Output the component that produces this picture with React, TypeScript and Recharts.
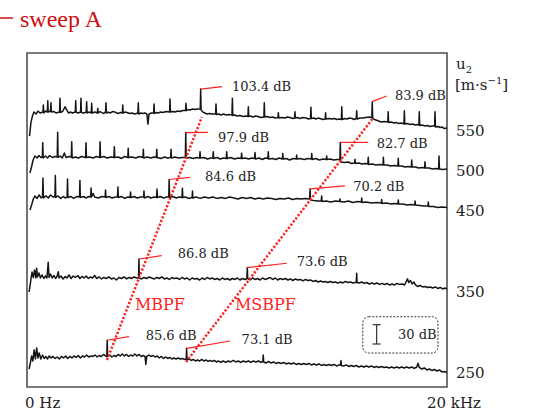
import React from 'react';
import {
  ComposedChart,
  Line,
  Scatter,
  XAxis,
  YAxis,
  ReferenceArea,
  ReferenceLine,
} from 'recharts';

type Pt = [number, number];

// u2 [m/s] of each spectrum and the level (dB) that sits on its tick
const speeds = [550, 500, 450, 350, 250];
const floorDb = [39.3, 38.7, 35.6, 36.0, 35.7];

// spectra as [frequency kHz, level dB]
const spec550: Pt[] = [
  [0.12, 30.6], [0.19, 52.3], [0.26, 61.6], [0.33, 67.8], [0.43, 64.7], [0.52, 69.4], [0.62, 66.3],
  [0.76, 67.8], [0.78, 78.7], [0.8, 66.3], [0.88, 69.4],
  [0.97, 67.8], [0.99, 85.3], [1.01, 67.8],
  [1.12, 69.4], [1.14, 82.2], [1.16, 67.8], [1.29, 68.6], [1.38, 66.3],
  [1.55, 67.8], [1.57, 89.0], [1.59, 67.0], [1.71, 69.4], [1.81, 76.0], [1.9, 70.9], [1.98, 66.3], [2.05, 67.8], [2.18, 66.3],
  [2.3, 67.8], [2.32, 85.3], [2.34, 67.8], [2.43, 66.3],
  [2.55, 67.8], [2.57, 89.0], [2.59, 67.0], [2.71, 66.3],
  [2.82, 67.8], [2.84, 83.8], [2.86, 66.3], [2.95, 67.8],
  [3.06, 66.3], [3.08, 81.3], [3.1, 66.3], [3.24, 67.8],
  [3.35, 66.3], [3.37, 73.5], [3.39, 66.3], [3.48, 68.6], [3.57, 67.0], [3.66, 65.5],
  [3.74, 67.8], [3.76, 82.2], [3.78, 66.3], [3.87, 67.8], [3.95, 66.3], [4.07, 68.6], [4.19, 67.8], [4.33, 65.5], [4.44, 67.0],
  [4.54, 66.3], [4.56, 78.7], [4.58, 66.3], [4.67, 67.8], [4.76, 67.0], [4.88, 65.5], [5.0, 66.3], [5.14, 64.7],
  [5.28, 66.3], [5.3, 82.2], [5.32, 64.7], [5.42, 66.3], [5.52, 65.5], [5.62, 66.3], [5.71, 64.7], [5.76, 49.2], [5.81, 64.7], [5.92, 66.3],
  [6.03, 66.3], [6.05, 80.2], [6.07, 65.5], [6.15, 67.0], [6.24, 66.3], [6.36, 67.8], [6.48, 67.0], [6.62, 68.6],
  [6.79, 67.8], [6.81, 88.1], [6.83, 67.8], [6.94, 68.6], [7.05, 67.8], [7.17, 69.4], [7.29, 68.6], [7.42, 70.1],
  [7.55, 70.1], [7.57, 81.3], [7.59, 70.1], [7.68, 71.7], [7.76, 70.9], [7.88, 72.5], [8.0, 71.7], [8.1, 72.5], [8.19, 72.5],
  [8.25, 72.5], [8.27, 103.4], [8.29, 70.9], [8.38, 67.8], [8.47, 66.3], [8.57, 64.7], [8.69, 65.5], [8.81, 64.7],
  [8.98, 64.7], [9.0, 80.2], [9.02, 63.9], [9.12, 64.7], [9.24, 63.2], [9.36, 64.7], [9.48, 63.2], [9.62, 64.0],
  [9.76, 63.2], [9.78, 89.0], [9.8, 62.4], [9.9, 63.2], [10.0, 61.6], [10.15, 62.4], [10.29, 60.9], [10.4, 61.6],
  [10.52, 60.9], [10.54, 76.0], [10.56, 60.9], [10.66, 61.6], [10.76, 60.1], [10.88, 61.6], [11.0, 60.9], [11.14, 59.3],
  [11.28, 60.1], [11.3, 82.2], [11.32, 60.1], [11.44, 60.9], [11.57, 59.3], [11.7, 60.1], [11.82, 58.5],
  [11.95, 59.3], [11.97, 66.7], [11.99, 58.5], [12.14, 59.3], [12.29, 58.5], [12.4, 60.1], [12.52, 59.3], [12.64, 57.8],
  [12.74, 58.5], [12.76, 68.3], [12.78, 58.5], [12.88, 59.3], [13.0, 57.8], [13.14, 59.3], [13.29, 58.5], [13.4, 57.0],
  [13.5, 57.8], [13.52, 75.1], [13.54, 57.8], [13.65, 58.5], [13.76, 57.0], [13.86, 58.5], [13.95, 57.8], [14.08, 56.2],
  [14.2, 57.0], [14.22, 66.7], [14.24, 57.0], [14.38, 57.8], [14.52, 57.0], [14.64, 57.8], [14.76, 56.2], [14.87, 57.0],
  [14.97, 56.2], [14.99, 76.0], [15.01, 56.2], [15.12, 57.8], [15.24, 57.0], [15.36, 58.5], [15.48, 57.8], [15.58, 56.2],
  [15.68, 57.8], [15.7, 69.8], [15.72, 57.0], [15.86, 58.5], [16.0, 58.5], [16.14, 59.3], [16.29, 60.1], [16.36, 59.3],
  [16.42, 60.1], [16.44, 83.9], [16.46, 58.5], [16.54, 56.2], [16.62, 55.4], [16.74, 53.9], [16.86, 52.3], [17.02, 53.1],
  [17.18, 52.3], [17.2, 68.3], [17.22, 51.5], [17.34, 52.3], [17.48, 50.8], [17.6, 51.5], [17.71, 50.0], [17.83, 50.8],
  [17.95, 49.2], [17.97, 69.8], [17.99, 49.2], [18.1, 50.0], [18.24, 48.5], [18.36, 49.2], [18.48, 47.7], [18.57, 48.5],
  [18.66, 47.7], [18.68, 68.3], [18.7, 46.9], [18.82, 47.7], [18.95, 46.1], [19.07, 46.9], [19.19, 45.4], [19.3, 46.1],
  [19.41, 46.1], [19.43, 68.3], [19.45, 44.6], [19.56, 45.4], [19.67, 43.8], [19.78, 44.6], [19.86, 42.2], [20.0, 43.0],
];

const spec500: Pt[] = [
  [0.14, 35.3], [0.22, 45.4], [0.29, 55.4], [0.38, 61.6], [0.48, 58.5], [0.57, 62.4], [0.66, 59.3],
  [0.73, 60.1], [0.75, 82.3], [0.77, 58.5], [0.88, 61.6], [0.98, 58.5], [1.08, 62.4], [1.2, 59.3], [1.33, 60.9],
  [1.44, 60.1], [1.46, 98.5], [1.48, 59.3], [1.58, 61.6], [1.68, 58.5], [1.78, 66.3], [1.86, 59.3], [2.0, 60.9],
  [2.11, 60.1], [2.13, 83.8], [2.15, 58.5], [2.3, 60.1], [2.45, 58.5], [2.6, 60.9],
  [2.79, 59.3], [2.81, 82.3], [2.83, 59.3], [2.98, 60.1], [3.15, 58.5], [3.3, 60.9],
  [3.46, 59.3], [3.48, 83.8], [3.5, 59.3], [3.65, 60.9], [3.82, 58.5], [4.0, 60.1],
  [4.14, 59.3], [4.16, 76.1], [4.18, 59.3], [4.35, 60.1], [4.5, 57.8], [4.65, 60.9],
  [4.8, 59.3], [4.82, 73.6], [4.84, 59.3], [5.0, 60.1], [5.18, 58.5], [5.35, 60.9],
  [5.52, 59.3], [5.54, 72.0], [5.56, 58.5], [5.72, 60.1], [5.9, 58.5], [6.05, 60.1],
  [6.16, 59.3], [6.18, 72.0], [6.2, 59.3], [6.38, 57.8], [6.55, 60.1], [6.7, 58.5],
  [6.84, 59.3], [6.86, 72.0], [6.88, 58.5], [7.05, 60.1], [7.22, 58.5], [7.4, 59.3],
  [7.54, 59.3], [7.56, 97.9], [7.58, 58.5], [7.75, 59.3], [7.92, 57.8], [8.08, 59.3],
  [8.22, 58.5], [8.24, 68.3], [8.26, 58.5], [8.42, 59.3], [8.6, 57.0], [8.75, 58.5],
  [8.85, 58.5], [8.87, 68.3], [8.89, 57.8], [9.05, 59.3], [9.2, 57.0], [9.35, 58.5],
  [9.49, 57.8], [9.51, 68.3], [9.53, 57.8], [9.7, 59.3], [9.88, 57.0], [10.05, 58.5],
  [10.2, 57.8], [10.22, 66.0], [10.24, 57.8], [10.4, 58.5], [10.55, 57.0], [10.7, 58.5],
  [10.84, 57.8], [10.86, 67.0], [10.88, 57.0], [11.05, 58.5], [11.2, 56.2], [11.35, 58.5],
  [11.47, 57.8], [11.49, 68.3], [11.51, 57.0], [11.7, 57.8], [11.85, 56.2], [12.0, 58.5],
  [12.16, 57.0], [12.18, 65.6], [12.2, 57.0], [12.35, 57.8], [12.5, 55.4], [12.68, 57.8],
  [12.82, 57.0], [12.84, 63.2], [12.86, 57.0], [13.0, 57.8], [13.2, 56.2], [13.38, 57.8],
  [13.54, 57.0], [13.56, 65.6], [13.58, 56.2], [13.75, 57.8], [13.92, 55.4], [14.1, 57.0],
  [14.25, 56.2], [14.27, 61.6], [14.29, 56.2], [14.45, 57.0], [14.6, 55.4], [14.78, 56.2],
  [14.9, 56.2], [14.92, 82.7], [14.94, 52.3], [15.1, 51.5], [15.3, 52.3], [15.45, 50.0],
  [15.6, 50.8], [15.62, 56.5], [15.64, 50.0], [15.8, 50.8], [15.95, 49.2], [16.1, 50.0],
  [16.23, 49.2], [16.25, 59.6], [16.27, 48.5], [16.45, 49.2], [16.62, 47.7], [16.8, 48.5],
  [16.95, 47.7], [16.97, 59.6], [16.99, 47.7], [17.15, 47.7], [17.32, 46.1], [17.5, 46.9],
  [17.66, 46.1], [17.68, 58.1], [17.7, 46.1], [17.85, 46.1], [18.0, 44.6], [18.15, 45.4],
  [18.3, 44.6], [18.32, 55.4], [18.34, 44.6], [18.5, 44.6], [18.65, 43.0], [18.8, 43.8],
  [18.93, 43.0], [18.95, 52.8], [18.97, 43.0], [19.15, 43.0], [19.3, 41.5], [19.45, 42.2],
  [19.6, 41.5], [19.62, 61.6], [19.64, 41.5], [19.8, 40.7], [20.0, 41.5],
];

const spec450: Pt[] = [
  [0.14, 37.4], [0.22, 45.1], [0.3, 54.4], [0.38, 59.1], [0.48, 55.3], [0.58, 60.6], [0.67, 56.0],
  [0.74, 57.5], [0.76, 87.0], [0.78, 56.0], [0.9, 59.1], [1.02, 56.0], [1.12, 60.6], [1.24, 57.5],
  [1.33, 58.3], [1.35, 90.8], [1.37, 56.8], [1.48, 59.1], [1.6, 55.3], [1.72, 58.3], [1.82, 56.0],
  [1.91, 57.5], [1.93, 85.4], [1.95, 56.8], [2.08, 58.3], [2.22, 55.3], [2.38, 58.3],
  [2.5, 57.5], [2.52, 83.1], [2.54, 56.8], [2.68, 58.3], [2.82, 56.0], [2.95, 58.3],
  [3.03, 57.5], [3.05, 71.5], [3.07, 57.5], [3.15, 63.0], [3.22, 57.5], [3.4, 56.0], [3.56, 58.3],
  [3.72, 57.5], [3.74, 68.4], [3.76, 56.8], [3.9, 58.3], [4.05, 56.0], [4.2, 57.5],
  [4.31, 57.5], [4.33, 73.0], [4.35, 56.8], [4.5, 58.3], [4.65, 55.3], [4.8, 57.5],
  [4.91, 56.8], [4.93, 65.3], [4.95, 56.8], [5.1, 58.3], [5.25, 56.0], [5.4, 57.5],
  [5.55, 57.5], [5.57, 66.8], [5.59, 56.0], [5.75, 58.3], [5.9, 56.0], [6.05, 57.5],
  [6.17, 56.8], [6.19, 69.9], [6.21, 56.8], [6.35, 58.3], [6.5, 56.0], [6.65, 57.5],
  [6.75, 57.5], [6.77, 84.6], [6.79, 56.8], [6.95, 58.3], [7.1, 56.0], [7.25, 57.5],
  [7.38, 56.8], [7.4, 71.0], [7.42, 56.8], [7.55, 57.5], [7.7, 55.3],
  [7.86, 56.8], [7.88, 66.8], [7.9, 56.0], [8.05, 57.5], [8.25, 55.3], [8.45, 57.5], [8.65, 56.0],
  [8.85, 57.5], [9.05, 55.3], [9.25, 56.8], [9.45, 55.3], [9.65, 57.5], [9.85, 56.0], [10.05, 54.4],
  [10.25, 56.8], [10.45, 55.3], [10.65, 56.8], [10.85, 54.4], [11.05, 56.0], [11.25, 54.4],
  [11.45, 56.0], [11.65, 55.3], [11.85, 53.6], [12.05, 55.3], [12.25, 54.4], [12.45, 56.0],
  [12.65, 53.6], [12.85, 55.3], [13.05, 54.4], [13.25, 55.3],
  [13.46, 54.4], [13.48, 70.2], [13.5, 52.9], [13.65, 52.1], [13.85, 51.3],
  [14.01, 51.3], [14.03, 59.1], [14.05, 50.6], [14.25, 51.3], [14.45, 49.8], [14.7, 51.3],
  [14.88, 50.6], [14.9, 54.4], [14.92, 50.6], [15.1, 49.8], [15.3, 51.3], [15.5, 49.0], [15.75, 50.6],
  [15.92, 49.8], [15.94, 56.0], [15.96, 49.0], [16.15, 49.8], [16.4, 48.2], [16.65, 49.0],
  [16.87, 48.2], [16.89, 53.6], [16.91, 47.5], [17.1, 48.2], [17.35, 46.7], [17.5, 47.5],
  [17.66, 46.7], [17.68, 52.9], [17.7, 46.7], [17.9, 46.7], [18.1, 45.1], [18.3, 46.0],
  [18.46, 45.1], [18.48, 51.3], [18.5, 45.1], [18.7, 44.4], [18.9, 43.6],
  [19.09, 43.6], [19.11, 49.8], [19.13, 42.8], [19.35, 42.8], [19.55, 41.2], [19.75, 42.0], [20.0, 41.2],
];

const spec350: Pt[] = [
  [0.1, 35.7], [0.17, 51.2], [0.24, 66.7], [0.3, 58.0], [0.36, 69.8], [0.42, 57.4], [0.46, 72.4], [0.5, 59.0],
  [0.57, 65.2], [0.64, 57.4], [0.72, 62.1], [0.8, 56.6], [0.88, 60.5], [0.95, 57.4], [1.01, 81.7], [1.05, 58.2],
  [1.12, 63.6], [1.2, 57.4], [1.28, 61.3], [1.36, 56.6], [1.44, 60.5], [1.49, 67.2], [1.53, 57.4], [1.62, 60.5],
  [1.72, 55.9], [1.82, 59.8], [1.9, 57.4], [2.0, 62.1], [2.1, 56.6], [2.2, 60.5], [2.3, 58.2], [2.42, 61.3],
  [2.52, 56.6], [2.62, 59.8], [2.72, 57.4], [2.82, 60.5], [2.92, 56.6], [3.02, 59.0], [3.12, 57.4], [3.22, 61.3],
  [3.32, 56.6], [3.44, 59.0], [3.55, 55.9], [3.66, 58.2], [3.78, 56.6], [3.9, 59.0], [4.02, 55.9], [4.14, 57.4],
  [4.26, 54.3], [4.38, 58.2], [4.5, 56.6], [4.62, 59.0], [4.74, 55.9], [4.86, 58.2], [4.98, 56.6], [5.1, 59.0],
  [5.22, 57.4], [5.31, 57.4], [5.33, 86.8], [5.35, 57.4], [5.45, 55.9], [5.58, 58.2], [5.7, 56.6], [5.82, 59.0],
  [5.94, 57.4], [6.06, 55.9], [6.18, 58.2], [6.3, 56.6], [6.42, 59.0], [6.54, 55.9], [6.66, 57.4], [6.78, 55.1],
  [6.9, 58.2], [7.02, 56.6], [7.14, 57.4], [7.26, 55.1], [7.38, 58.2], [7.5, 55.9], [7.62, 57.4], [7.74, 54.3],
  [7.86, 57.4], [7.98, 55.9], [8.1, 56.6], [8.22, 54.3], [8.34, 57.4], [8.46, 55.1], [8.58, 58.2], [8.7, 55.9],
  [8.82, 57.4], [8.94, 55.1], [9.06, 56.6], [9.18, 54.3], [9.3, 57.4], [9.42, 55.1], [9.54, 56.6], [9.66, 54.3],
  [9.78, 56.6], [9.9, 55.1], [10.02, 57.4], [10.14, 54.3], [10.26, 56.6], [10.38, 55.1], [10.47, 56.6],
  [10.49, 73.6], [10.51, 56.6], [10.62, 54.3], [10.74, 57.4], [10.86, 55.1], [10.98, 56.6], [11.1, 54.3],
  [11.22, 57.4], [11.34, 55.1], [11.46, 56.6], [11.58, 58.2], [11.7, 55.1], [11.82, 57.4], [11.94, 54.3],
  [12.06, 56.6], [12.18, 55.1], [12.3, 56.6], [12.42, 54.3], [12.54, 55.9], [12.66, 53.5], [12.78, 55.9],
  [12.9, 54.3], [13.02, 55.1], [13.14, 52.8], [13.26, 55.1], [13.38, 53.5], [13.5, 54.3], [13.62, 52.0],
  [13.74, 53.5], [13.86, 51.2], [13.98, 52.8], [14.1, 51.2], [14.2, 52.0], [14.32, 50.4], [14.44, 52.0],
  [14.56, 50.4], [14.68, 51.2], [14.8, 49.7], [14.92, 51.2], [15.04, 49.7], [15.16, 52.0], [15.28, 50.4],
  [15.4, 51.2], [15.52, 49.7], [15.62, 50.4], [15.68, 50.4], [15.7, 64.7], [15.72, 50.4], [15.82, 49.7],
  [15.94, 51.2], [16.06, 49.0], [16.18, 50.4], [16.3, 48.1], [16.42, 49.7], [16.54, 48.1], [16.66, 49.7],
  [16.78, 47.4], [16.9, 49.0], [17.02, 47.4], [17.14, 48.9], [17.26, 46.6], [17.38, 48.1], [17.5, 46.6],
  [17.62, 49.0], [17.74, 47.4], [17.86, 48.1], [17.98, 46.6], [18.06, 52.0], [18.12, 56.0], [18.18, 50.4],
  [18.26, 53.5], [18.34, 48.1], [18.42, 51.2], [18.5, 46.6], [18.6, 44.3], [18.72, 45.8], [18.84, 43.5],
  [18.96, 44.3], [19.08, 42.7], [19.2, 43.5], [19.32, 41.9], [19.44, 43.5], [19.56, 41.2], [19.68, 42.7],
  [19.8, 40.4], [19.9, 41.9], [20.0, 40.4],
];

const spec250: Pt[] = [
  [0.1, 41.1], [0.16, 50.4], [0.22, 61.3], [0.28, 53.5], [0.34, 70.6], [0.4, 56.6], [0.46, 73.7], [0.52, 58.2],
  [0.58, 66.0], [0.66, 56.6], [0.74, 62.8], [0.82, 57.4], [0.9, 60.5], [0.98, 56.6], [1.06, 61.3], [1.14, 58.2],
  [1.24, 60.5], [1.34, 57.4], [1.44, 59.7], [1.54, 56.6], [1.64, 60.5], [1.74, 58.2], [1.84, 61.3], [1.94, 57.4],
  [2.04, 60.5], [2.14, 58.2], [2.24, 61.3], [2.34, 59.0], [2.44, 62.0], [2.54, 58.2], [2.64, 61.3], [2.74, 59.7],
  [2.84, 62.8], [2.94, 59.7], [3.04, 61.3], [3.14, 60.5], [3.24, 62.8], [3.34, 59.7], [3.44, 62.0], [3.54, 60.5],
  [3.64, 63.6], [3.74, 61.3], [3.8, 60.5], [3.82, 85.6], [3.84, 60.5], [3.94, 62.8], [4.04, 59.7], [4.14, 62.0],
  [4.24, 60.5], [4.34, 63.6], [4.44, 61.3], [4.54, 64.4], [4.64, 61.3], [4.74, 63.6], [4.84, 60.5], [4.94, 62.8],
  [5.04, 61.3], [5.14, 64.4], [5.24, 61.3], [5.34, 63.6], [5.44, 60.5], [5.54, 62.0], [5.62, 60.5], [5.66, 48.0],
  [5.7, 60.5], [5.8, 62.8], [5.9, 60.5], [6.0, 62.0], [6.1, 59.7], [6.2, 61.3], [6.3, 58.2], [6.4, 60.5],
  [6.5, 57.4], [6.6, 59.7], [6.7, 57.4], [6.8, 59.0], [6.9, 56.6], [7.0, 58.2], [7.1, 56.6], [7.2, 58.2],
  [7.3, 56.6], [7.4, 57.4], [7.5, 55.9], [7.58, 56.6], [7.6, 73.1], [7.62, 55.1], [7.72, 56.6], [7.82, 54.3],
  [7.92, 55.9], [8.02, 53.5], [8.12, 55.1], [8.22, 53.5], [8.32, 55.9], [8.42, 53.5], [8.52, 55.1], [8.62, 52.8],
  [8.72, 54.3], [8.82, 52.8], [8.92, 54.3], [9.02, 52.0], [9.12, 53.5], [9.22, 51.2], [9.34, 53.5], [9.46, 51.2],
  [9.58, 53.5], [9.7, 52.0], [9.82, 54.3], [9.94, 52.0], [10.06, 53.5], [10.18, 51.2], [10.3, 53.5], [10.42, 52.0],
  [10.54, 53.5], [10.66, 51.2], [10.78, 53.5], [10.9, 52.0], [11.02, 53.5], [11.14, 51.2], [11.23, 52.8],
  [11.25, 62.8], [11.27, 52.0], [11.38, 50.4], [11.5, 52.8], [11.62, 50.4], [11.74, 52.0], [11.86, 49.7],
  [11.98, 51.2], [12.1, 49.7], [12.22, 51.2], [12.34, 48.9], [12.46, 50.4], [12.58, 48.9], [12.7, 50.4],
  [12.82, 48.1], [12.94, 49.7], [13.06, 48.1], [13.18, 49.7], [13.3, 48.1], [13.42, 49.7], [13.54, 47.4],
  [13.66, 48.9], [13.78, 47.4], [13.9, 48.9], [14.02, 46.6], [14.14, 48.1], [14.26, 46.6], [14.38, 48.1],
  [14.5, 46.6], [14.62, 48.1], [14.74, 45.8], [14.86, 47.4], [14.93, 47.4], [14.95, 54.3], [14.97, 46.6],
  [15.08, 45.8], [15.2, 47.4], [15.32, 45.0], [15.44, 46.6], [15.56, 45.0], [15.68, 46.6], [15.8, 44.2],
  [15.92, 45.8], [16.04, 44.2], [16.16, 45.8], [16.28, 44.2], [16.4, 45.8], [16.52, 43.5], [16.64, 45.0],
  [16.76, 43.5], [16.88, 45.0], [17.0, 43.5], [17.12, 44.2], [17.24, 42.7], [17.36, 44.2], [17.48, 42.7],
  [17.6, 44.2], [17.72, 42.7], [17.84, 44.2], [17.96, 42.7], [18.08, 44.2], [18.2, 42.7], [18.32, 44.2],
  [18.44, 41.9], [18.56, 44.2], [18.62, 49.9], [18.68, 43.5], [18.8, 41.1], [18.92, 42.7], [19.04, 39.6],
  [19.16, 41.1], [19.28, 38.8], [19.4, 40.4], [19.52, 38.0], [19.64, 39.6], [19.76, 36.5], [19.88, 37.3],
  [20.0, 35.7],
];

const spectra = [spec550, spec500, spec450, spec350, spec250];

// peak callouts: spectrum index, peak (kHz, dB), leader end and text position in the same units
const peaks = [
  { trace: 0, f: 8.27, db: 103.4, endF: 9.29, endDb: 107.3, textF: 9.76, textDb: 108.1 },
  { trace: 0, f: 16.44, db: 83.9, endF: 17.13, endDb: 92.6, textF: 17.52, textDb: 94.2 },
  { trace: 1, f: 7.56, db: 97.9, endF: 8.62, endDb: 98.1, textF: 9.1, textDb: 91.1 },
  { trace: 1, f: 14.92, db: 82.7, endF: 16.25, endDb: 82.7, textF: 16.65, textDb: 80.3 },
  { trace: 2, f: 6.77, db: 84.6, endF: 7.76, endDb: 88.0, textF: 8.48, textDb: 88.9 },
  { trace: 2, f: 13.48, db: 70.2, endF: 15.14, endDb: 74.6, textF: 15.54, textDb: 74.6 },
  { trace: 3, f: 5.33, db: 86.8, endF: 6.41, endDb: 92.0, textF: 7.18, textDb: 95.7 },
  { trace: 3, f: 10.49, db: 73.6, endF: 12.37, endDb: 80.2, textF: 12.84, textDb: 82.7 },
  { trace: 4, f: 3.82, db: 85.6, endF: 4.86, endDb: 91.2, textF: 5.65, textDb: 93.8 },
  { trace: 4, f: 7.6, db: 73.1, endF: 9.67, endDb: 84.5, textF: 10.22, textDb: 86.1 },
];

// blade passing orders, drawn across the speeds (kHz, u2)
const orderLines = [
  { name: 'MBPF', f1: 3.81, u1: 265.5, f2: 8.33, u2: 566.7, textF: 5.14, textU: 334.9 },
  { name: 'MSBPF', f1: 7.57, u1: 263.0, f2: 16.48, u2: 565.4, textF: 9.9, textU: 334.9 },
];

const speedTicks = [250, 350, 450, 500, 550];
const freqTicks = [0, 20];

const U_MIN = 232;
const U_MAX = 646;
const DB_TO_U = 0.8; // u2 units per dB of level

// 30 dB scale bar and its frame
const barDb = 30;
const barAt = { f: 16.65, u: 285.3 };
const barBox = { f1: 15.99, f2: 19.57, u1: 274.1, u2: 319.1 };
const barText = { f: 17.67, u: 297.7 };

const RED = '#ff2222';
const INK = '#222';
const SERIF = '"DejaVu Serif", serif';

const level = (trace: number, db: number) => speeds[trace] + (db - floorDb[trace]) * DB_TO_U;

const textPoints = [
  ...peaks.map((p) => ({ f: p.textF, v: level(p.trace, p.textDb), text: `${p.db} dB`, red: false })),
  ...orderLines.map((o) => ({ f: o.textF, v: o.textU, text: o.name, red: true })),
  { f: barText.f, v: barText.u, text: `${barDb} dB`, red: false },
];

const TextMark = (props: any) => {
  const { cx, cy, payload } = props;
  return (
    <text
      x={cx}
      y={cy}
      dy="0.35em"
      fontFamily={SERIF}
      fontSize={payload.red ? 16 : 13}
      fill={payload.red ? RED : INK}
    >
      {payload.text}
    </text>
  );
};

const SpeedTick = (props: any) => {
  const { x, y, payload } = props;
  return (
    <text x={x + 1} y={y} dy="0.35em" fontFamily={SERIF} fontSize={15} fill={INK} textAnchor="start">
      {payload.value}
    </text>
  );
};

const FreqTick = (props: any) => {
  const { x, y, payload } = props;
  const first = payload.value === 0;
  return (
    <text x={first ? x - 2 : x - 20} y={y + 8} dy="0.35em" fontFamily={SERIF} fontSize={15} fill={INK}>
      {first ? '0 Hz' : '20 kHz'}
    </text>
  );
};

const BarBoxShape = (props: any) => (
  <rect
    x={props.x}
    y={props.y}
    width={props.width}
    height={props.height}
    rx={6}
    fill="none"
    stroke="#333"
    strokeWidth={1}
    strokeDasharray="2 1.5"
  />
);

export default function App() {
  const capHalf = 0.19;
  return (
    <div style={{ position: 'absolute', left: 0, top: 0, width: 542, height: 411, background: '#fff' }}>
      <svg width={542} height={411} style={{ position: 'absolute', left: 0, top: 0 }}>
        <line x1={0} y1={18} x2={13} y2={18} stroke="#cc1111" strokeWidth={1.5} />
        <text x={20} y={27} fontFamily='"Liberation Serif", serif' fontSize={24} fill="#cc1111">
          sweep A
        </text>
        <text x={456} y={69} fontFamily={SERIF} fontSize={15} fill={INK}>
          u<tspan fontSize={10} dy={4}>2</tspan>
        </text>
        <text x={455} y={90} fontFamily={SERIF} fontSize={15} fill={INK}>
          [m·s<tspan fontSize={10} dy={-6}>−1</tspan><tspan dy={6}>]</tspan>
        </text>
      </svg>
      <div style={{ position: 'absolute', left: 0, top: 0 }}>
        <ComposedChart width={542} height={411} margin={{ top: 53, right: 25, bottom: 0, left: 27 }}>
          <XAxis
            type="number"
            dataKey="f"
            domain={[0, 20]}
            ticks={freqTicks}
            axisLine={false}
            tickLine={false}
            height={24}
            tick={<FreqTick />}
            allowDataOverflow
          />
          <YAxis
            type="number"
            dataKey="v"
            orientation="right"
            domain={[U_MIN, U_MAX]}
            ticks={speedTicks}
            axisLine={false}
            tickLine={false}
            width={70}
            tick={<SpeedTick />}
            allowDataOverflow
          />
          {spectra.map((s, i) => (
            <Line
              key={`spec-${speeds[i]}`}
              data={s.map(([f, db]) => ({ f, v: level(i, db) }))}
              dataKey="v"
              stroke="#141414"
              strokeWidth={1.5}
              strokeLinejoin="round"
              dot={false}
              isAnimationActive={false}
            />
          ))}
          {orderLines.map((o) => (
            <Line
              key={o.name}
              data={[
                { f: o.f1, v: o.u1 },
                { f: o.f2, v: o.u2 },
              ]}
              dataKey="v"
              stroke={RED}
              strokeWidth={2.5}
              strokeDasharray="2.2 1.8"
              dot={false}
              isAnimationActive={false}
            />
          ))}
          {peaks.map((p, i) => (
            <Line
              key={`lead-${i}`}
              data={[
                { f: p.f, v: level(p.trace, p.db) },
                { f: p.endF, v: level(p.trace, p.endDb) },
              ]}
              dataKey="v"
              stroke={RED}
              strokeWidth={1.2}
              dot={false}
              isAnimationActive={false}
            />
          ))}
          <ReferenceArea
            x1={barBox.f1}
            x2={barBox.f2}
            y1={barBox.u1}
            y2={barBox.u2}
            shape={<BarBoxShape />}
          />
          <ReferenceLine
            segment={[
              { x: barAt.f, y: barAt.u },
              { x: barAt.f, y: barAt.u + barDb * DB_TO_U },
            ]}
            stroke="#333"
            strokeWidth={1.2}
          />
          <ReferenceLine
            segment={[
              { x: barAt.f - capHalf, y: barAt.u },
              { x: barAt.f + capHalf, y: barAt.u },
            ]}
            stroke="#333"
            strokeWidth={1.2}
          />
          <ReferenceLine
            segment={[
              { x: barAt.f - capHalf, y: barAt.u + barDb * DB_TO_U },
              { x: barAt.f + capHalf, y: barAt.u + barDb * DB_TO_U },
            ]}
            stroke="#333"
            strokeWidth={1.2}
          />
          <Scatter data={textPoints} dataKey="v" shape={<TextMark />} isAnimationActive={false} />
          <ReferenceArea
            x1={0}
            x2={20}
            y1={U_MIN}
            y2={U_MAX}
            fill="none"
            stroke="#505050"
            strokeWidth={1.6}
            ifOverflow="visible"
          />
        </ComposedChart>
      </div>
    </div>
  );
}
